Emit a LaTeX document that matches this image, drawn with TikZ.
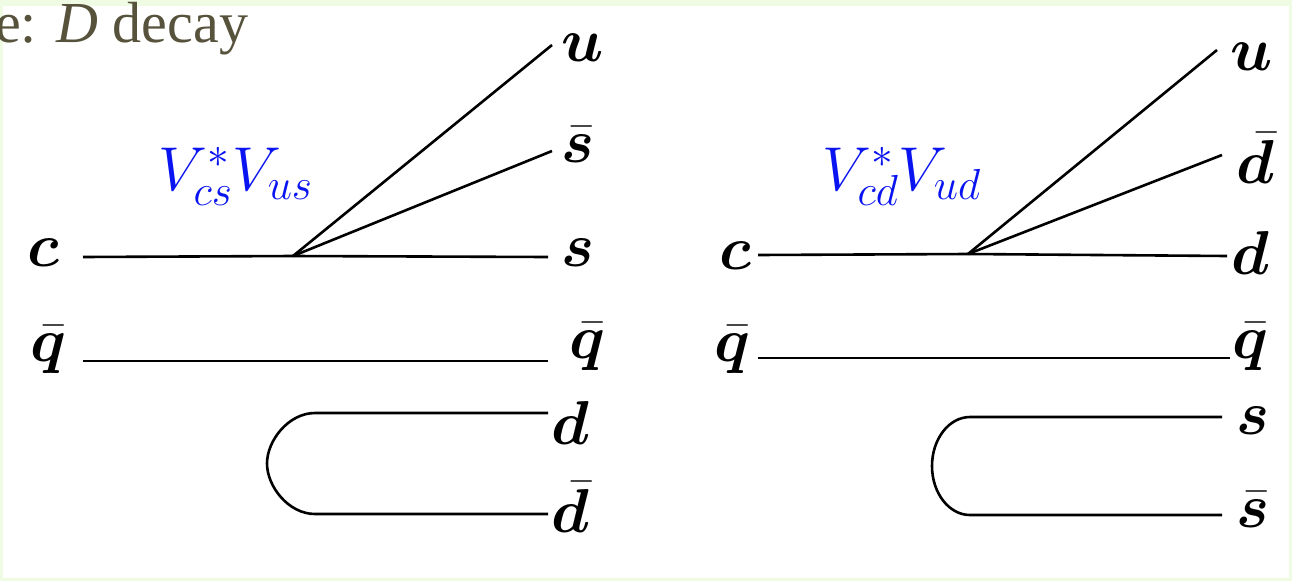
\RequirePackage{fix-cm}
\documentclass[tikz,border=0pt]{standalone}
\usepackage{amsmath,bm}
\usepackage{fontspec}
\newfontfamily\titlefont{Liberation Serif}
\definecolor{framegreen}{HTML}{EFFBE3}
\definecolor{titleolive}{HTML}{57523C}
\definecolor{ckmblue}{HTML}{0A14F0}
\begin{document}
\begin{tikzpicture}[x=1pt,y=-1pt,
  quark/.style={line width=2.6pt},
  lab/.style={font=\fontsize{62}{62}\selectfont, inner sep=0pt},
  ckm/.style={font=\fontsize{62}{62}\selectfont, text=ckmblue, inner sep=0pt, anchor=base west}]
\fill[framegreen] (0,0) rectangle (1292,581);
\fill[white] (3,6) rectangle (1289,578);
\useasboundingbox (0,0) rectangle (1292,581);
\begin{scope}
  \clip (0,0) rectangle (420,90);
  \node[anchor=base west, inner sep=0pt, text=titleolive, font=\fontsize{58}{58}\titlefont] (title) at (-5,42) {e: \itshape D\upshape\ decay};
\end{scope}

% ---------- left diagram ----------
\coordinate (v1) at (293,256);
\coordinate (c1s) at (83,257);
\coordinate (u1e) at (552,45);
\coordinate (sb1e) at (552,151);
\coordinate (s1e) at (548,257);
\coordinate (q1s) at (83,361);
\coordinate (q1e) at (548,361);
\coordinate (d1e) at (548,413);
\coordinate (db1e) at (548,514);
\coordinate (l1t) at (315,413);
\coordinate (l1m) at (267,463.5);
\coordinate (l1b) at (315,514);

\node[lab] (c1) at (43,253) {$\bm{c}$};
\node[lab] (qb1) at (48,350) {$\bar{\bm{q}}$};
\node[lab] (u1) at (583,48) {$\bm{u}$};
\node[lab] (sb1) at (578,145) {$\bar{\bm{s}}$};
\node[lab] (s1) at (578,253) {$\bm{s}$};
\node[lab] (qb1r) at (587,347) {$\bar{\bm{q}}$};
\node[lab] (d1) at (570,423) {$\bm{d}$};
\node[lab] (db1) at (570,507) {$\bar{\bm{d}}$};
\node[ckm] (ckm1) at (158,190) {$V^*_{cs}V_{us}$};

\draw[quark] (c1s) -- (v1) -- (s1e);
\draw[quark] (v1) -- (u1e);
\draw[quark] (v1) -- (sb1e);
\draw[quark] (q1s) -- (q1e);
\draw[quark] (d1e) -- (l1t) .. controls (288.5,413) and (267,440.6) .. (l1m)
  .. controls (267,486.4) and (288.5,514) .. (l1b) -- (db1e);

% ---------- right diagram ----------
\coordinate (v2) at (968,254);
\coordinate (c2s) at (758,255);
\coordinate (d2e) at (1227,256);
\coordinate (u2e) at (1217,50);
\coordinate (db2e) at (1222,155);
\coordinate (q2s) at (758,358);
\coordinate (q2e) at (1230,358);
\coordinate (s2e) at (1222,417);
\coordinate (sb2e) at (1222,515);
\coordinate (l2t) at (970,417);
\coordinate (l2m) at (932,466);
\coordinate (l2b) at (970,515);

\node[lab] (c2) at (735,256) {$\bm{c}$};
\node[lab] (qb2) at (732,350) {$\bar{\bm{q}}$};
\node[lab] (u2) at (1252,57) {$\bm{u}$};
\node[lab] (db2) at (1255,158) {$\bar{\bm{d}}$};
\node[lab] (d2) at (1250,253) {$\bm{d}$};
\node[lab] (qb2r) at (1250,347) {$\bar{\bm{q}}$};
\node[lab] (s2) at (1253,421) {$\bm{s}$};
\node[lab] (sb2) at (1253,510) {$\bar{\bm{s}}$};
\node[ckm] (ckm2) at (822,190) {$V^*_{cd}V_{ud}$};

\draw[quark] (c2s) -- (v2) -- (d2e);
\draw[quark] (v2) -- (u2e);
\draw[quark] (v2) -- (db2e);
\draw[quark] (q2s) -- (q2e);
\draw[quark] (s2e) -- (l2t) .. controls (949,417) and (932,439) .. (l2m)
  .. controls (932,493) and (949,515) .. (l2b) -- (sb2e);
\end{tikzpicture}
\end{document}
